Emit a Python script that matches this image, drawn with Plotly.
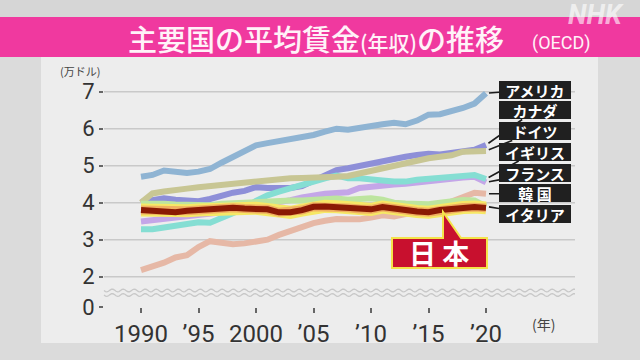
import math
import plotly.graph_objects as go

# ---------------- data ----------------
years = list(range(1990, 2021))
usa     = [4.70, 4.75, 4.87, 4.82, 4.80, 4.84, 4.91, 5.08, 5.25, 5.40, 5.55, 5.61, 5.66, 5.74, 5.80, 5.83, 5.92, 6.00, 5.97, 6.03, 6.08, 6.12, 6.16, 6.12, 6.22, 6.38, 6.39, 6.46, 6.56, 6.68, 6.96]
canada  = [4.02, 4.08, 4.12, 4.08, 4.04, 4.04, 4.10, 4.20, 4.27, 4.32, 4.42, 4.40, 4.38, 4.40, 4.45, 4.58, 4.75, 4.88, 4.93, 5.00, 5.05, 5.10, 5.17, 5.24, 5.29, 5.32, 5.30, 5.35, 5.40, 5.43, 5.56]
germany = [4.00, 4.25, 4.30, 4.32, 4.38, 4.42, 4.45, 4.50, 4.55, 4.58, 4.61, 4.63, 4.64, 4.66, 4.67, 4.67, 4.68, 4.70, 4.72, 4.79, 4.86, 4.93, 4.99, 5.06, 5.15, 5.20, 5.24, 5.28, 5.38, 5.41, 5.40]
uk      = [3.28, 3.28, 3.33, 3.38, 3.44, 3.47, 3.46, 3.60, 3.70, 3.85, 4.05, 4.20, 4.30, 4.40, 4.50, 4.58, 4.66, 4.73, 4.66, 4.66, 4.65, 4.60, 4.57, 4.57, 4.62, 4.64, 4.68, 4.70, 4.70, 4.75, 4.64]
france  = [3.49, 3.52, 3.56, 3.58, 3.62, 3.65, 3.67, 3.74, 3.79, 3.84, 3.89, 3.95, 4.02, 4.07, 4.14, 4.20, 4.24, 4.26, 4.28, 4.40, 4.44, 4.47, 4.49, 4.51, 4.55, 4.58, 4.62, 4.66, 4.68, 4.70, 4.55]
korea   = [2.18, 2.27, 2.38, 2.52, 2.58, 2.80, 2.96, 2.92, 2.88, 2.90, 2.93, 3.00, 3.13, 3.25, 3.36, 3.45, 3.51, 3.56, 3.55, 3.55, 3.60, 3.66, 3.63, 3.70, 3.76, 3.82, 3.89, 4.03, 4.17, 4.27, 4.24]
italy   = [3.97, 3.98, 3.97, 3.95, 3.93, 3.91, 3.93, 3.97, 3.99, 4.00, 4.02, 4.03, 4.04, 4.06, 4.06, 4.08, 4.09, 4.11, 4.08, 4.10, 4.12, 4.08, 4.00, 3.98, 3.97, 3.96, 4.00, 4.05, 4.07, 4.06, 3.90]
japan   = [3.80, 3.78, 3.76, 3.74, 3.78, 3.80, 3.83, 3.86, 3.86, 3.84, 3.85, 3.82, 3.74, 3.74, 3.80, 3.89, 3.90, 3.89, 3.86, 3.83, 3.82, 3.88, 3.82, 3.80, 3.76, 3.74, 3.80, 3.82, 3.87, 3.88, 3.86]

x_tick_vals = [1990, 1995, 2000, 2005, 2010, 2015, 2020]
x_tick_text = ["1990", "’95", "2000", "’05", "’10", "’15", "’20"]
y_grid_vals = [2, 3, 4, 5, 6, 7]
y_tick_text = ["0", "2", "3", "4", "5", "6", "7"]
Y_ZERO_POS = 1.181   # where the broken axis shows "0"

W, H = 640, 360
def xp(px): return px / W
def yp(py): return 1 - py / H

# axis geometry
X_LEFT, X_RIGHT = 104, 575
Y_BOTTOM = 307
PX_PER_YEAR = 11.5
X0_YEAR = 1990 - (141 - X_LEFT) / PX_PER_YEAR
X1_YEAR = 1990 + (X_RIGHT - 141) / PX_PER_YEAR
Y_TOP_VAL = 9.478
PX_PER_UNIT = Y_BOTTOM / (Y_TOP_VAL - Y_ZERO_POS)
def val_to_py(v): return Y_BOTTOM - (v - Y_ZERO_POS) * PX_PER_UNIT

CJK = "Noto Sans CJK JP"

fig = go.Figure()

series = [
    ("韓国", korea, "#e6b8a6"),
    ("フランス", france, "#c4a6e8"),
    ("カナダ", canada, "#8e8fd8"),
    ("イギリス", uk, "#85ded3"),
    ("ドイツ", germany, "#c8c694"),
    ("アメリカ", usa, "#8fb4d3"),
    ("イタリア", italy, "#bde59f"),
]
for name, vals, col in series:
    fig.add_trace(go.Scatter(x=years, y=vals, mode="lines", name=name,
                             line=dict(color=col, width=6), hoverinfo="skip"))
# Japan: highlighted line
fig.add_trace(go.Scatter(x=years, y=japan, mode="lines", line=dict(color="#f6e866", width=13), hoverinfo="skip"))
fig.add_trace(go.Scatter(x=years, y=japan, mode="lines", line=dict(color="#f0b060", width=9), hoverinfo="skip"))
fig.add_trace(go.Scatter(x=years, y=japan, mode="lines", name="日本", line=dict(color="#8a1a04", width=6), hoverinfo="skip"))

shapes = []
# outer background pieces
shapes.append(dict(type="rect", xref="paper", yref="paper", x0=0, x1=1, y0=yp(17), y1=1,
                   fillcolor="#d6d6d6", line_width=0, layer="below"))
shapes.append(dict(type="rect", xref="paper", yref="paper", x0=xp(41), x1=xp(598), y0=yp(343), y1=yp(57),
                   fillcolor="#ededed", line_width=0, layer="below"))
# pink banner
shapes.append(dict(type="rect", xref="paper", yref="paper", x0=0, x1=1, y0=yp(57), y1=yp(17),
                   fillcolor="#f0399f", line_width=0, layer="below"))
# gridlines
for v in y_grid_vals:
    shapes.append(dict(type="line", xref="paper", yref="y", x0=xp(X_LEFT), x1=xp(X_RIGHT), y0=v, y1=v,
                       line=dict(color="#c9c9c9", width=1.5), layer="below"))
# wavy axis break
for base in (290.5, 295.0):
    pts = []
    x = X_LEFT
    while x <= X_RIGHT:
        y = base + 1.4 * math.sin(2 * math.pi * (x - X_LEFT) / 11)
        pts.append(f"{xp(x):.5f},{yp(y):.5f}")
        x += 1.5
    shapes.append(dict(type="path", xref="paper", yref="paper", path="M " + " L ".join(pts),
                       line=dict(color="#c8c8c8", width=1.3), layer="below"))
# Japan callout (box + pointer)
cx = [392, 443, 443, 461, 487, 487, 392]
cy = [238, 238, 212, 238, 238, 268, 268]
path = "M " + " L ".join(f"{xp(a):.5f},{yp(b):.5f}" for a, b in zip(cx, cy)) + " Z"
shapes.append(dict(type="path", xref="paper", yref="paper", path=path,
                   fillcolor="#c8102e", line=dict(color="#f4e34a", width=2), layer="above"))

annotations = []
# title
annotations.append(dict(
    xref="paper", yref="paper", x=xp(126), y=yp(38), xanchor="left", yanchor="middle", showarrow=False,
    text='主要国の平均賃金<span style="font-size:21px">(年収)</span>の推移',
    font=dict(family=CJK, size=29, color="#fff2f8", weight=500)))
annotations.append(dict(
    xref="paper", yref="paper", x=xp(530), y=yp(43), xanchor="left", yanchor="middle", showarrow=False,
    text="(OECD)", font=dict(family="Roboto", size=18, color="#fff2f8")))
# NHK logo
annotations.append(dict(
    xref="paper", yref="paper", x=xp(626), y=yp(15), xanchor="right", yanchor="middle", showarrow=False,
    text="<b><i>NHK</i></b>", font=dict(family="Roboto", size=27, color="rgba(255,255,255,0.62)")))
# unit labels
annotations.append(dict(
    xref="paper", yref="paper", x=xp(80), y=yp(71), xanchor="center", yanchor="middle", showarrow=False,
    text="(万ドル)", font=dict(family=CJK, size=11, color="#444444")))
annotations.append(dict(
    xref="paper", yref="paper", x=xp(543), y=yp(324), xanchor="center", yanchor="middle", showarrow=False,
    text="(年)", font=dict(family=CJK, size=14, color="#444444")))
# Japan label text
annotations.append(dict(
    xref="paper", yref="paper", x=xp(439), y=yp(253), xanchor="center", yanchor="middle", showarrow=False,
    text="日 本", font=dict(family=CJK, size=27, color="#ffffff", weight="bold")))

# right-side country labels with connectors
labels = [
    ("アメリカ", usa[-1], 89.5),
    ("カナダ", canada[-1], 110.5),
    ("ドイツ", germany[-1], 131.5),
    ("イギリス", uk[-1], 152),
    ("フランス", france[-1], 173),
    ("韓 国", korea[-1], 193.5),
    ("イタリア", italy[-1], 214.5),
]
head_px = 141 + (years[-1] - 1990) * PX_PER_YEAR
for txt, v, by in labels:
    annotations.append(dict(
        x=years[-1], y=v, xref="x", yref="y",
        ax=535 - head_px, ay=by - val_to_py(v), axref="pixel", ayref="pixel",
        text=txt, showarrow=True, arrowhead=0, arrowwidth=1.6, arrowcolor="#1c1c1c", standoff=3,
        bgcolor="#202020", width=72, height=18, borderpad=0, borderwidth=0,
        font=dict(family=CJK, size=15, color="#ffffff", weight="bold")))

fig.update_layout(
    width=W, height=H, margin=dict(l=0, r=0, t=0, b=0, pad=0), autosize=False,
    paper_bgcolor="#dbdbdb", plot_bgcolor="rgba(0,0,0,0)",
    showlegend=False, hovermode=False,
    shapes=shapes, annotations=annotations,
    xaxis=dict(domain=[xp(X_LEFT), xp(X_RIGHT)], range=[X0_YEAR, X1_YEAR], automargin=False,
               tickvals=x_tick_vals, ticktext=x_tick_text,
               ticks="outside", ticklen=5, tickwidth=1.5, tickcolor="#666666",
               tickfont=dict(family="Liberation Sans Narrow, Roboto", size=24, color="#333333"),
               showgrid=False, zeroline=False, showline=False, fixedrange=True),
    yaxis=dict(domain=[(H - Y_BOTTOM) / H, 1], range=[Y_ZERO_POS, Y_TOP_VAL], automargin=False,
               tickvals=[Y_ZERO_POS] + y_grid_vals, ticktext=y_tick_text,
               ticks="outside", ticklen=4, tickwidth=1.5, tickcolor="#666666",
               tickfont=dict(family="Roboto", size=22, color="#333333"),
               showgrid=False, zeroline=False, showline=False, fixedrange=True),
)

fig.write_html("out.html", config={"displayModeBar": False},
               post_script="document.body.style.margin='0';document.body.style.overflow='hidden';")
